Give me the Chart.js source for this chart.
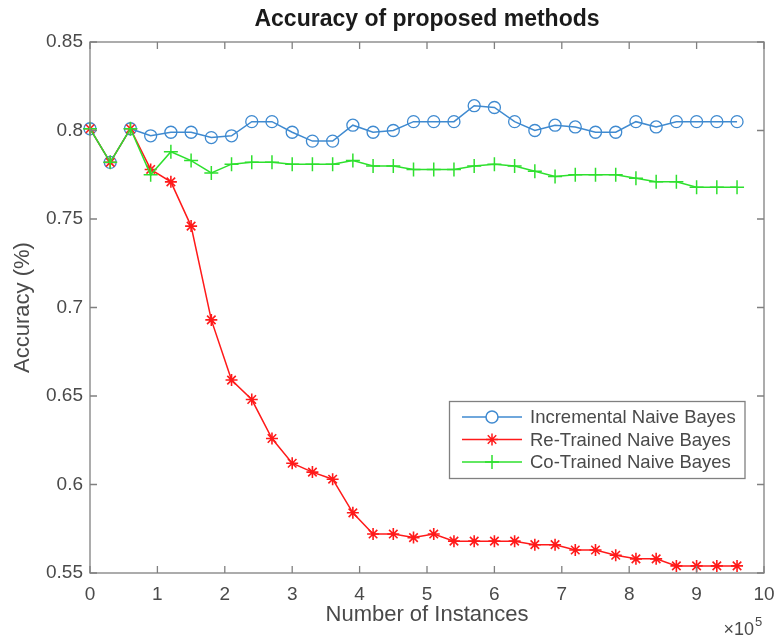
<!DOCTYPE html>
<html>
<head>
<meta charset="utf-8">
<title>Accuracy of proposed methods</title>
<script src="https://cdn.jsdelivr.net/npm/chart.js@4/dist/chart.umd.min.js"></script>
<style>
  html, body { margin: 0; padding: 0; background: #fff; }
  #wrap { width: 777px; height: 638px; position: relative; }
</style>
</head>
<body>
<div id="wrap"><canvas id="accChart"></canvas></div>
<script>
// data (x in units of 10^5 instances)
const instances = [0, 0.3, 0.6, 0.9, 1.2, 1.5, 1.8, 2.1, 2.4, 2.7, 3.0, 3.3, 3.6, 3.9, 4.2, 4.5, 4.8,
  5.1, 5.4, 5.7, 6.0, 6.3, 6.6, 6.9, 7.2, 7.5, 7.8, 8.1, 8.4, 8.7, 9.0, 9.3, 9.6];
const incremental = [0.801, 0.782, 0.801, 0.797, 0.799, 0.799, 0.796, 0.797, 0.805, 0.805, 0.799,
  0.794, 0.794, 0.803, 0.799, 0.800, 0.805, 0.805, 0.805, 0.814, 0.813, 0.805, 0.800, 0.803, 0.802,
  0.799, 0.799, 0.805, 0.802, 0.805, 0.805, 0.805, 0.805];
const retrained = [0.801, 0.782, 0.801, 0.778, 0.771, 0.746, 0.693, 0.659, 0.648, 0.626, 0.612,
  0.607, 0.603, 0.584, 0.572, 0.572, 0.570, 0.572, 0.568, 0.568, 0.568, 0.568, 0.566, 0.566, 0.563,
  0.563, 0.560, 0.558, 0.558, 0.554, 0.554, 0.554, 0.554];
const cotrained = [0.801, 0.782, 0.801, 0.775, 0.788, 0.783, 0.776, 0.781, 0.782, 0.782, 0.781,
  0.781, 0.781, 0.783, 0.780, 0.780, 0.778, 0.778, 0.778, 0.780, 0.781, 0.780, 0.777, 0.774, 0.775,
  0.775, 0.775, 0.773, 0.771, 0.771, 0.768, 0.768, 0.768];

const seriesNames = ["Incremental Naive Bayes", "Re-Trained Naive Bayes", "Co-Trained Naive Bayes"];
const xTicks = [0, 1, 2, 3, 4, 5, 6, 7, 8, 9, 10];
const yTicks = [0.55, 0.6, 0.65, 0.7, 0.75, 0.8, 0.85];
const yTickLabels = ["0.55", "0.6", "0.65", "0.7", "0.75", "0.8", "0.85"];

const FONT = "'Liberation Sans', Arial, Helvetica, sans-serif";
const AXIS_GRAY = "#808080";
const TEXT_GRAY = "#4a4a4a";

const colors = { blue: "#3f8ad0", red: "#ff1a1a", green: "#2ee02e" };

function toPoints(ys) {
  return instances.map((x, i) => ({ x: x, y: ys[i] }));
}

// MATLAB-like box, inward ticks, legend, title and exponent label
const matlabAxes = {
  id: "matlabAxes",
  afterDraw(chart) {
    const { ctx, chartArea: a, scales } = chart;
    const tl = 7;
    ctx.save();
    ctx.strokeStyle = AXIS_GRAY;
    ctx.lineWidth = 1.3;
    ctx.strokeRect(a.left, a.top, a.right - a.left, a.bottom - a.top);
    ctx.beginPath();
    scales.x.ticks.forEach(t => {
      const px = scales.x.getPixelForValue(t.value);
      ctx.moveTo(px, a.bottom); ctx.lineTo(px, a.bottom - tl);
      ctx.moveTo(px, a.top); ctx.lineTo(px, a.top + tl);
    });
    scales.y.ticks.forEach(t => {
      const py = scales.y.getPixelForValue(t.value);
      ctx.moveTo(a.left, py); ctx.lineTo(a.left + tl, py);
      ctx.moveTo(a.right, py); ctx.lineTo(a.right - tl, py);
    });
    ctx.stroke();

    // title
    ctx.fillStyle = "#1a1a1a";
    ctx.font = "bold 23px " + FONT;
    ctx.textAlign = "center";
    ctx.textBaseline = "alphabetic";
    ctx.fillText("Accuracy of proposed methods", (a.left + a.right) / 2, 26);

    // x10^5
    ctx.fillStyle = TEXT_GRAY;
    ctx.font = "18px " + FONT;
    ctx.textAlign = "right";
    ctx.fillText("\u00d710", 754, 635);
    ctx.font = "13px " + FONT;
    ctx.textAlign = "left";
    ctx.fillText("5", 755, 626);

    // legend
    const box = { x: 449.5, y: 401.5, w: 295.5, h: 77 };
    ctx.fillStyle = "#fff";
    ctx.fillRect(box.x, box.y, box.w, box.h);
    ctx.strokeStyle = AXIS_GRAY;
    ctx.lineWidth = 1.3;
    ctx.strokeRect(box.x, box.y, box.w, box.h);
    const rows = [417, 439.5, 462];
    chart.data.datasets.forEach((ds, i) => {
      const y = rows[i];
      ctx.strokeStyle = ds.borderColor;
      ctx.lineWidth = ds.borderWidth;
      ctx.beginPath();
      ctx.moveTo(462, y); ctx.lineTo(522, y);
      ctx.stroke();
      Chart.helpers.drawPoint(ctx, {
        pointStyle: ds.pointStyle,
        radius: ds.pointRadius,
        borderWidth: ds.pointBorderWidth,
        rotation: 0
      }, 492, y);
      ctx.fillStyle = TEXT_GRAY;
      ctx.font = "18.5px " + FONT;
      ctx.textAlign = "left";
      ctx.textBaseline = "middle";
      ctx.fillText(ds.label, 530, y + 1);
    });
    ctx.restore();
  }
};

const ctxAcc = document.getElementById("accChart");
new Chart(ctxAcc, {
  type: "line",
  data: {
    datasets: [{
      label: seriesNames[0],
      data: toPoints(incremental),
      borderColor: colors.blue,
      borderWidth: 1.5,
      pointStyle: "circle",
      pointRadius: 6,
      pointBorderWidth: 1.3,
      pointBorderColor: colors.blue,
      pointBackgroundColor: "rgba(0,0,0,0)",
      tension: 0,
      clip: false,
      order: 3
    }, {
      label: seriesNames[1],
      data: toPoints(retrained),
      borderColor: colors.red,
      borderWidth: 1.5,
      pointStyle: "star",
      pointRadius: 6,
      pointBorderWidth: 1.6,
      pointBorderColor: colors.red,
      pointBackgroundColor: colors.red,
      tension: 0,
      clip: false,
      order: 2
    }, {
      label: seriesNames[2],
      data: toPoints(cotrained),
      borderColor: colors.green,
      borderWidth: 1.5,
      pointStyle: "cross",
      pointRadius: 7,
      pointBorderWidth: 1.5,
      pointBorderColor: colors.green,
      pointBackgroundColor: colors.green,
      tension: 0,
      clip: false,
      order: 1
    }]
  },
  options: {
    responsive: true,
    maintainAspectRatio: false,
    animation: false,
    layout: { padding: { top: 42, right: 13, bottom: 0, left: 0 } },
    plugins: {
      legend: { display: false },
      title: { display: false },
      tooltip: { enabled: false }
    },
    scales: {
      x: {
        type: "linear",
        min: 0,
        max: 10,
        afterBuildTicks: s => { s.ticks = xTicks.map(v => ({ value: v })); },
        afterFit: s => { s.height = 65; s.paddingLeft = 0; s.paddingRight = 0; },
        grid: { display: false, drawTicks: false },
        border: { display: false },
        ticks: {
          color: TEXT_GRAY,
          font: { family: FONT, size: 19 },
          padding: 10,
          maxRotation: 0,
          callback: v => String(v)
        },
        title: {
          display: true,
          text: "Number of Instances",
          color: TEXT_GRAY,
          font: { family: FONT, size: 22 },
          padding: { top: 0, bottom: 10 }
        }
      },
      y: {
        type: "linear",
        min: 0.55,
        max: 0.85,
        afterBuildTicks: s => { s.ticks = yTicks.map(v => ({ value: v })); },
        afterFit: s => { s.width = 90; },
        grid: { display: false, drawTicks: false },
        border: { display: false },
        ticks: {
          color: TEXT_GRAY,
          font: { family: FONT, size: 19 },
          padding: 7,
          callback: (v, i) => yTickLabels[i]
        },
        title: {
          display: true,
          text: "Accuracy (%)",
          color: TEXT_GRAY,
          font: { family: FONT, size: 22 },
          padding: { top: 10, bottom: 0 }
        }
      }
    }
  },
  plugins: [matlabAxes]
});
</script>
</body>
</html>
